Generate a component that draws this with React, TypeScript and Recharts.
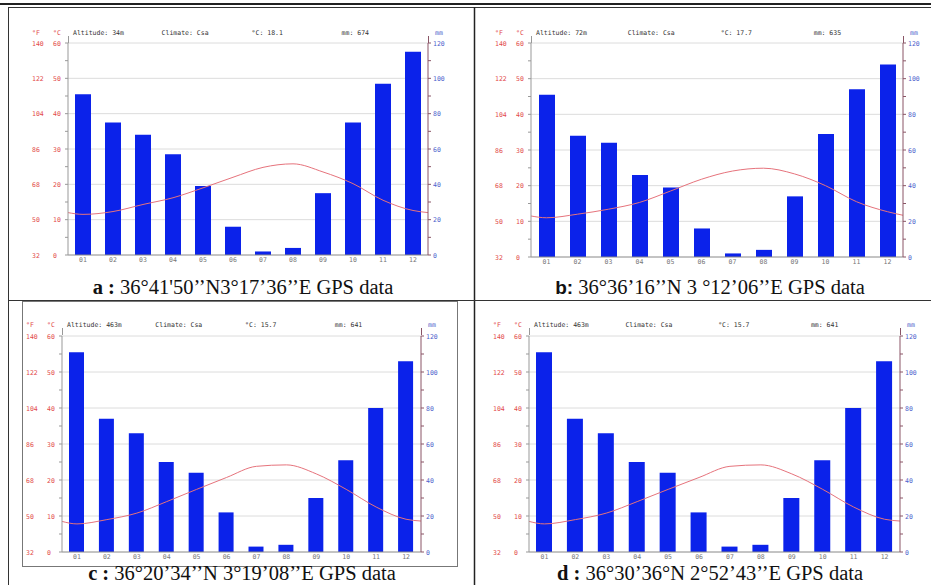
import React from 'react';
import { ComposedChart, Bar, Line, XAxis, YAxis, CartesianGrid } from 'recharts';

// months and axis labels
const months = ['01', '02', '03', '04', '05', '06', '07', '08', '09', '10', '11', '12'];
const fLabels = [32, 50, 68, 86, 104, 122, 140];
const cLabels = [0, 10, 20, 30, 40, 50, 60];
const cTicks = [0, 5, 10, 15, 20, 25, 30, 35, 40, 45, 50, 55, 60];
const mmLabels = [0, 20, 40, 60, 80, 100, 120];
const mmTicks = [0, 10, 20, 30, 40, 50, 60, 70, 80, 90, 100, 110, 120];
const gridLines = [20, 40, 60, 80, 100, 120];

// a : 36°41'50''N 3°17'36''E
const precipA = [91, 75, 68, 57, 39, 16, 2, 4, 35, 75, 97, 115];
const tempA = [11.5, 12.3, 14.3, 16.2, 19.0, 22.0, 24.8, 25.8, 23.5, 20.2, 15.5, 12.6];
const edgeA = [12.0, 12.0];
const headerA = ['Altitude: 34m', 'Climate: Csa', '°C: 18.1', 'mm: 674'];

// b : 36°36'16''N 3°12'06''E
const precipB = [91, 68, 64, 46, 39, 16, 2, 4, 34, 69, 94, 108];
const tempB = [11.0, 12.0, 13.4, 15.3, 18.5, 21.8, 24.1, 24.9, 23.3, 20.0, 15.5, 12.7];
const edgeB = [11.5, 11.7];
const headerB = ['Altitude: 72m', 'Climate: Csa', '°C: 17.7', 'mm: 635'];

// c : 36°20'34''N 3°19'08''E
const precipC = [111, 74, 66, 50, 44, 22, 3, 4, 30, 51, 80, 106];
const tempC = [7.8, 9.0, 10.8, 14.0, 17.4, 20.7, 23.8, 24.2, 21.7, 17.4, 12.5, 9.1];
const edgeC = [8.5, 8.6];
const headerC = ['Altitude: 463m', 'Climate: Csa', '°C: 15.7', 'mm: 641'];

// d : 36°30'36''N 2°52'43''E
const precipD = [111, 74, 66, 50, 44, 22, 3, 4, 30, 51, 80, 106];
const tempD = [7.8, 9.0, 10.8, 14.0, 17.4, 20.7, 23.8, 24.2, 21.7, 17.4, 12.5, 9.1];
const edgeD = [8.5, 8.6];
const headerD = ['Altitude: 463m', 'Climate: Csa', '°C: 15.7', 'mm: 641'];

const MONO = 'DejaVu Sans Mono';
const RED = '#e24a4a';
const BLUE = '#4d5fcc';
const BAR = '#0b22ea';
const LINE = '#e6737c';

const LeftTick = (props: any) => {
  const { x, y, payload } = props;
  const v = payload.value;
  const i = cLabels.indexOf(v);
  return (
    <g>
      <line x1={x} x2={x - 3} y1={y} y2={y} stroke="#999" />
      {i >= 0 && (
        <>
          <text x={x - 15} y={y + 2.5} fontSize={6.5} fontFamily={MONO} fill={RED}>{v}</text>
          <text x={x - 36} y={y + 2.5} fontSize={6.5} fontFamily={MONO} fill={RED}>{fLabels[i]}</text>
        </>
      )}
    </g>
  );
};

const RightTick = (props: any) => {
  const { x, y, payload } = props;
  const v = payload.value;
  return (
    <g>
      <line x1={x} x2={x + 3} y1={y} y2={y} stroke="#8a5566" />
      {mmLabels.includes(v) && (
        <text x={x + 5} y={y + 2.5} fontSize={6.5} fontFamily={MONO} fill={BLUE}>{v}</text>
      )}
    </g>
  );
};

type PanelProps = {
  left: number; top: number; width: number; height: number;
  precip: number[]; temp: number[]; edge: number[]; barSize: number;
};

const ClimatePanel = ({ left, top, width, height, precip, temp, edge, barSize }: PanelProps) => {
  const bars = months.map((m, i) => ({ m, p: precip[i] }));
  const line = [
    { x: 0.5, t: edge[0] },
    ...temp.map((t, i) => ({ x: i + 1, t })),
    { x: 12.5, t: edge[1] },
  ];
  return (
    <div style={{ position: 'absolute', left: left - 40, top: top - 5 }}>
      <ComposedChart width={width + 70} height={height + 20} data={bars} margin={{ top: 5, right: 0, bottom: 0, left: 0 }}>
        <CartesianGrid xAxisId="cat" yAxisId="mm" vertical={false} horizontalValues={gridLines} stroke="#dcdcdc" />
        <XAxis xAxisId="cat" dataKey="m" height={15} tickLine={false} tickSize={0} tickMargin={2} interval={0}
          axisLine={{ stroke: '#888' }} tick={{ fontSize: 6.5, fontFamily: MONO, fill: '#777' }} />
        <XAxis xAxisId="num" type="number" dataKey="x" domain={[0.5, 12.5]} hide allowDataOverflow />
        <YAxis yAxisId="c" orientation="left" width={40} domain={[0, 60]} ticks={cTicks} interval={0}
          tickLine={false} tickSize={0} tickMargin={0} axisLine={{ stroke: '#999' }} tick={LeftTick} allowDataOverflow />
        <YAxis yAxisId="mm" orientation="right" width={30} domain={[0, 120]} ticks={mmTicks} interval={0}
          tickLine={false} tickSize={0} tickMargin={0} axisLine={{ stroke: '#8a5566' }} tick={RightTick} allowDataOverflow />
        <Bar xAxisId="cat" yAxisId="mm" dataKey="p" fill={BAR} barSize={barSize} isAnimationActive={false} />
        <Line xAxisId="num" yAxisId="c" data={line} dataKey="t" type="monotone" stroke={LINE} strokeWidth={1}
          dot={false} activeDot={false} isAnimationActive={false} />
      </ComposedChart>
    </div>
  );
};

const Header = ({ left, right, y, texts }: { left: number; right: number; y: number; texts: string[] }) => {
  const w = right - left;
  const xs = [left + 5, left + 0.26 * w, left + 0.51 * w, left + 0.76 * w];
  return (
    <g fontFamily={MONO} fontSize={6.5}>
      <text x={left - 36} y={y} fill={RED}>°F</text>
      <text x={left - 15} y={y} fill={RED}>°C</text>
      {texts.map((t, i) => (
        <text key={i} x={xs[i]} y={y} fill="#333">{t}</text>
      ))}
      <text x={right + 7} y={y} fill={BLUE}>mm</text>
      <line x1={left + 0.5} x2={left + 0.5} y1={y + 1} y2={y + 8} stroke="#999" />
      <line x1={right + 0.5} x2={right + 0.5} y1={y + 1} y2={y + 8} stroke="#8a5566" />
    </g>
  );
};

export default function App() {
  return (
    <div style={{ position: 'absolute', left: 0, top: 0, width: 931, height: 585, overflow: 'hidden', background: '#fff' }}>
      <ClimatePanel left={68} top={43} width={360} height={212} precip={precipA} temp={tempA} edge={edgeA} barSize={16} />
      <ClimatePanel left={531} top={43} width={372} height={214} precip={precipB} temp={tempB} edge={edgeB} barSize={16} />
      <ClimatePanel left={62} top={336} width={359} height={216} precip={precipC} temp={tempC} edge={edgeC} barSize={15} />
      <ClimatePanel left={529} top={336} width={371} height={216} precip={precipD} temp={tempD} edge={edgeD} barSize={16} />
      <svg width={931} height={585} style={{ position: 'absolute', left: 0, top: 0, pointerEvents: 'none' }}>
        <line x1={0} x2={931} y1={4} y2={4} stroke="#222" strokeWidth={2} />
        <line x1={8} x2={931} y1={7.5} y2={7.5} stroke="#333" strokeWidth={1} />
        <line x1={8.5} x2={8.5} y1={7} y2={585} stroke="#333" strokeWidth={1} />
        <line x1={474.5} x2={474.5} y1={7} y2={585} stroke="#222" strokeWidth={1.5} />
        <line x1={8} x2={931} y1={300.5} y2={300.5} stroke="#333" strokeWidth={1} />
        <rect x={22.5} y={301.5} width={435} height={265} fill="none" stroke="#777" strokeWidth={1} />

        <Header left={68} right={428} y={35} texts={headerA} />
        <Header left={531} right={903} y={35} texts={headerB} />
        <Header left={62} right={421} y={327} texts={headerC} />
        <Header left={529} right={900} y={327} texts={headerD} />

        <g fontFamily="Liberation Serif" fontSize={20.5} fill="#111" textAnchor="middle">
          <text x={243} y={294}><tspan fontWeight="bold">a :</tspan> 36°41'50’’N3°17’36’’E GPS data</text>
          <text x={710} y={294}><tspan fontWeight="bold" fontFamily="Liberation Sans" fontSize={19}>b:</tspan> 36°36’16’’N 3 °12’06’’E GPS data</text>
          <text x={242} y={580}><tspan fontWeight="bold">c :</tspan> 36°20’34’’N 3°19’08’’E GPS data</text>
          <text x={710} y={580}><tspan fontWeight="bold">d :</tspan> 36°30’36°N 2°52’43’’E GPS data</text>
        </g>
      </svg>
    </div>
  );
}
